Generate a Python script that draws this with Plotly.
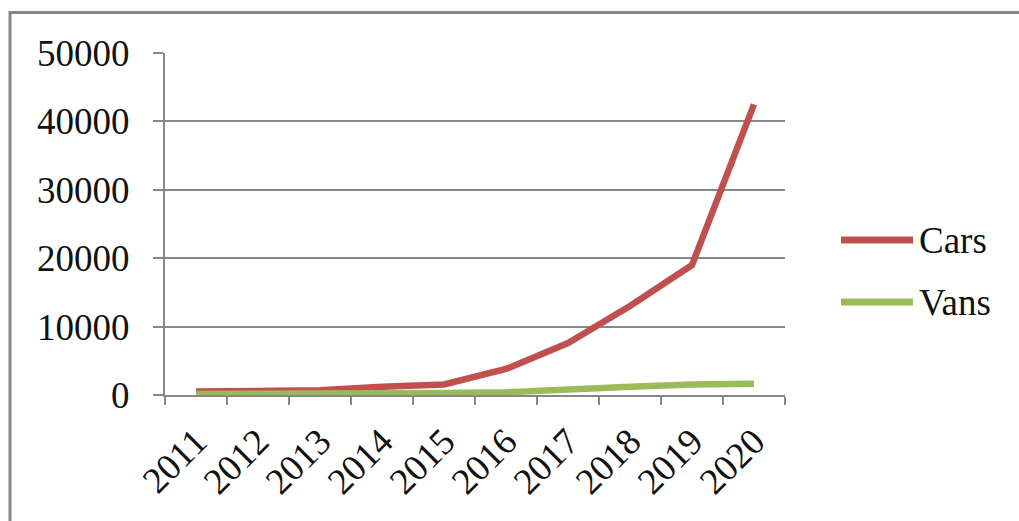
import plotly.graph_objects as go

# Yearly figures
years = ["2011", "2012", "2013", "2014", "2015", "2016", "2017", "2018", "2019", "2020"]
cars = [500, 500, 700, 1200, 1550, 3800, 7600, 13000, 19000, 42500]
vans = [150, 150, 200, 250, 300, 400, 700, 1200, 1550, 1650]

series_names = ["Cars", "Vans"]
series_colors = ["#C0504D", "#9BBB59"]
y_ticks = [0, 10000, 20000, 30000, 40000, 50000]

W, H = 1019, 521
L, R, T, B = 165, 785, 53, 395          # plot-area edges in pixels
GRID = "#878787"
FONT = dict(family="Liberation Serif, Times New Roman, serif", size=37, color="#111111")


def px(x):
    return (x - L) / (R - L)


def py(y):
    return (B - y) / (B - T)


fig = go.Figure()
for name, vals, col in zip(series_names, [cars, vans], series_colors):
    fig.add_trace(go.Scatter(
        x=years, y=vals, name=name, mode="lines",
        line=dict(color=col, width=6.5), showlegend=False,
    ))

shapes = [
    # chart frame (left and top edges visible)
    dict(type="path", xref="paper", yref="paper",
         path=f"M {px(10)} {py(560)} L {px(10)} {py(12.5)} L {px(1040)} {py(12.5)}",
         line=dict(color=GRID, width=3)),
]
annotations = []
legend_y = [240, 302]
for name, col, ly in zip(series_names, series_colors, legend_y):
    shapes.append(dict(type="line", xref="paper", yref="paper",
                       x0=px(841), x1=px(913), y0=py(ly), y1=py(ly),
                       line=dict(color=col, width=7)))
    annotations.append(dict(xref="paper", yref="paper", x=px(917), y=py(ly),
                            text=name, showarrow=False, xanchor="left", yanchor="middle",
                            font=FONT))

fig.update_layout(
    width=W, height=H,
    margin=dict(l=L, r=W - R, t=T, b=H - B, pad=0),
    paper_bgcolor="white", plot_bgcolor="white",
    font=FONT,
    shapes=shapes, annotations=annotations,
    xaxis=dict(
        type="category", tickson="boundaries", range=[-0.5, 9.5],
        showgrid=False, showline=True, linecolor=GRID, linewidth=2,
        ticks="outside", ticklen=8, tickwidth=2, tickcolor=GRID,
        tickangle=-45, ticklabelstandoff=8, tickfont=FONT,
    ),
    yaxis=dict(
        range=[0, 50000], tickvals=y_ticks, ticktext=[str(v) for v in y_ticks],
        showgrid=True, gridcolor=GRID, gridwidth=2, zeroline=False,
        showline=True, linecolor=GRID, linewidth=2,
        ticks="outside", ticklen=10, tickwidth=2, tickcolor=GRID,
        ticklabelstandoff=16, tickfont=FONT,
    ),
)

fig.write_html("out.html")
